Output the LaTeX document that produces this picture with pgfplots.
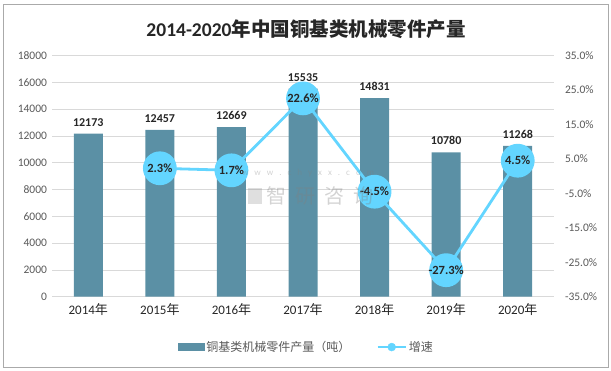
\documentclass[border=0pt]{standalone}
\usepackage{fontspec}
\setmainfont{Carlito}
\newfontfamily\cjk{Noto Sans CJK SC}
\usepackage{pgfplots}
\pgfplotsset{compat=1.18}
\definecolor{barcolor}{RGB}{91,144,165}
\definecolor{linecolor}{RGB}{99,213,255}
\definecolor{gridgray}{RGB}{217,217,217}
\definecolor{labelgray}{RGB}{89,89,89}
\definecolor{darktext}{RGB}{38,38,38}
\definecolor{bordergray}{RGB}{170,170,170}
\begin{document}
\begin{tikzpicture}[x=1pt,y=1pt]
\path[use as bounding box] (0,0) rectangle (611,371);
\draw[bordergray, line width=0.8pt] (3,4) rectangle (608,367);
\node[text=darktext, font=\fontsize{19.5}{22}\selectfont\bfseries] at (306,342) {2014-2020{\cjk\bfseries 年中国铜基类机械零件产量}};
\begin{axis}[
  at={(52.5pt,74.3pt)}, anchor=south west,
  scale only axis, width=501pt, height=241pt,
  xmin=-0.5, xmax=6.5, ymin=0, ymax=18000,
  ytick={0,2000,...,18000},
  xtick={0,...,6},
  xticklabels={2014{\cjk 年},2015{\cjk 年},2016{\cjk 年},2017{\cjk 年},2018{\cjk 年},2019{\cjk 年},2020{\cjk 年}},
  major tick length=0,
  axis y line*=left, axis x line*=bottom,
  y axis line style={draw=none},
  x axis line style={draw=gridgray, line width=0.8pt, -},
  ymajorgrids, grid style={gridgray, line width=0.8pt},
  /pgf/number format/assume math mode=true,
  /pgf/number format/1000 sep={},
  scaled y ticks=false,
  yticklabel style={font=\fontsize{11.5}{13}\selectfont, text=labelgray, xshift=-2pt},
  xticklabel style={font=\fontsize{13}{15}\selectfont, text=darktext, yshift=-3pt},
  clip=false,
]
\addplot[ybar, bar width=29pt, fill=barcolor, draw=none,
  nodes near coords,
  every node near coord/.append style={font=\fontsize{12}{14}\selectfont\bfseries, text=darktext, yshift=4pt}]
  coordinates {(0,12173) (1,12457) (2,12669) (3,15535) (4,14831) (5,10780) (6,11268)};
\end{axis}
\begin{axis}[
  at={(52.5pt,74.3pt)}, anchor=south west,
  scale only axis, width=501pt, height=241pt,
  xmin=-0.5, xmax=6.5, ymin=-35, ymax=35,
  ytick={-35,-25,...,35},
  axis y line*=right, axis x line=none,
  y axis line style={draw=none},
  major tick length=0,
  /pgf/number format/assume math mode=true,
  yticklabel={\pgfmathprintnumber[fixed,fixed zerofill,precision=1]{\tick}\%},
  yticklabel style={font=\fontsize{11.5}{13}\selectfont, text=labelgray, xshift=8pt},
  clip=false,
  legend style={at={(0.507,-0.209)}, anchor=center, draw=none, fill=none,
    legend columns=2, font=\fontsize{12}{14}\selectfont, text=labelgray,
    /tikz/every even column/.append style={column sep=24pt}},
]
\addlegendimage{legend image code/.code={\fill[barcolor] (0pt,-3.5pt) rectangle (26pt,3.5pt);}}
\addlegendentry{\cjk 铜基类机械零件产量（吨）}
\addlegendimage{legend image code/.code={\draw[linecolor, line width=2.5pt] (0pt,0pt) -- (28pt,0pt); \fill[linecolor] (14pt,0pt) circle (4pt);}}
\addlegendentry{\cjk 增速}
\addplot[linecolor, line width=2.8pt, mark=*, mark size=15.5pt,
  mark options={fill=linecolor, draw=none},
  nodes near coords={\pgfmathprintnumber[fixed,fixed zerofill,precision=1]{\pgfplotspointmeta}\%},
  nodes near coords align={anchor=center},
  every node near coord/.append style={anchor=center, font=\fontsize{12.5}{14}\selectfont\bfseries, text=darktext}]
  coordinates {(1,2.3) (2,1.7) (3,22.6) (4,-4.5) (5,-27.3) (6,4.5)};
\end{axis}
\node[text=gray, opacity=0.35, font=\cjk\fontsize{20}{22}\selectfont] at (320,175) {智\hspace{9pt}研\hspace{9pt}咨\hspace{9pt}询};
\node[text=gray, opacity=0.35, font=\fontsize{9}{10}\selectfont] at (308,198) {w\hspace{6pt}w\hspace{6pt}w\hspace{6pt}.\hspace{6pt}c\hspace{6pt}h\hspace{6pt}y\hspace{6pt}x\hspace{6pt}x\hspace{6pt}.\hspace{6pt}c\hspace{6pt}o\hspace{6pt}m};
\fill[gray, opacity=0.25] (248,167) rectangle (262,183);
\end{tikzpicture}
\end{document}
